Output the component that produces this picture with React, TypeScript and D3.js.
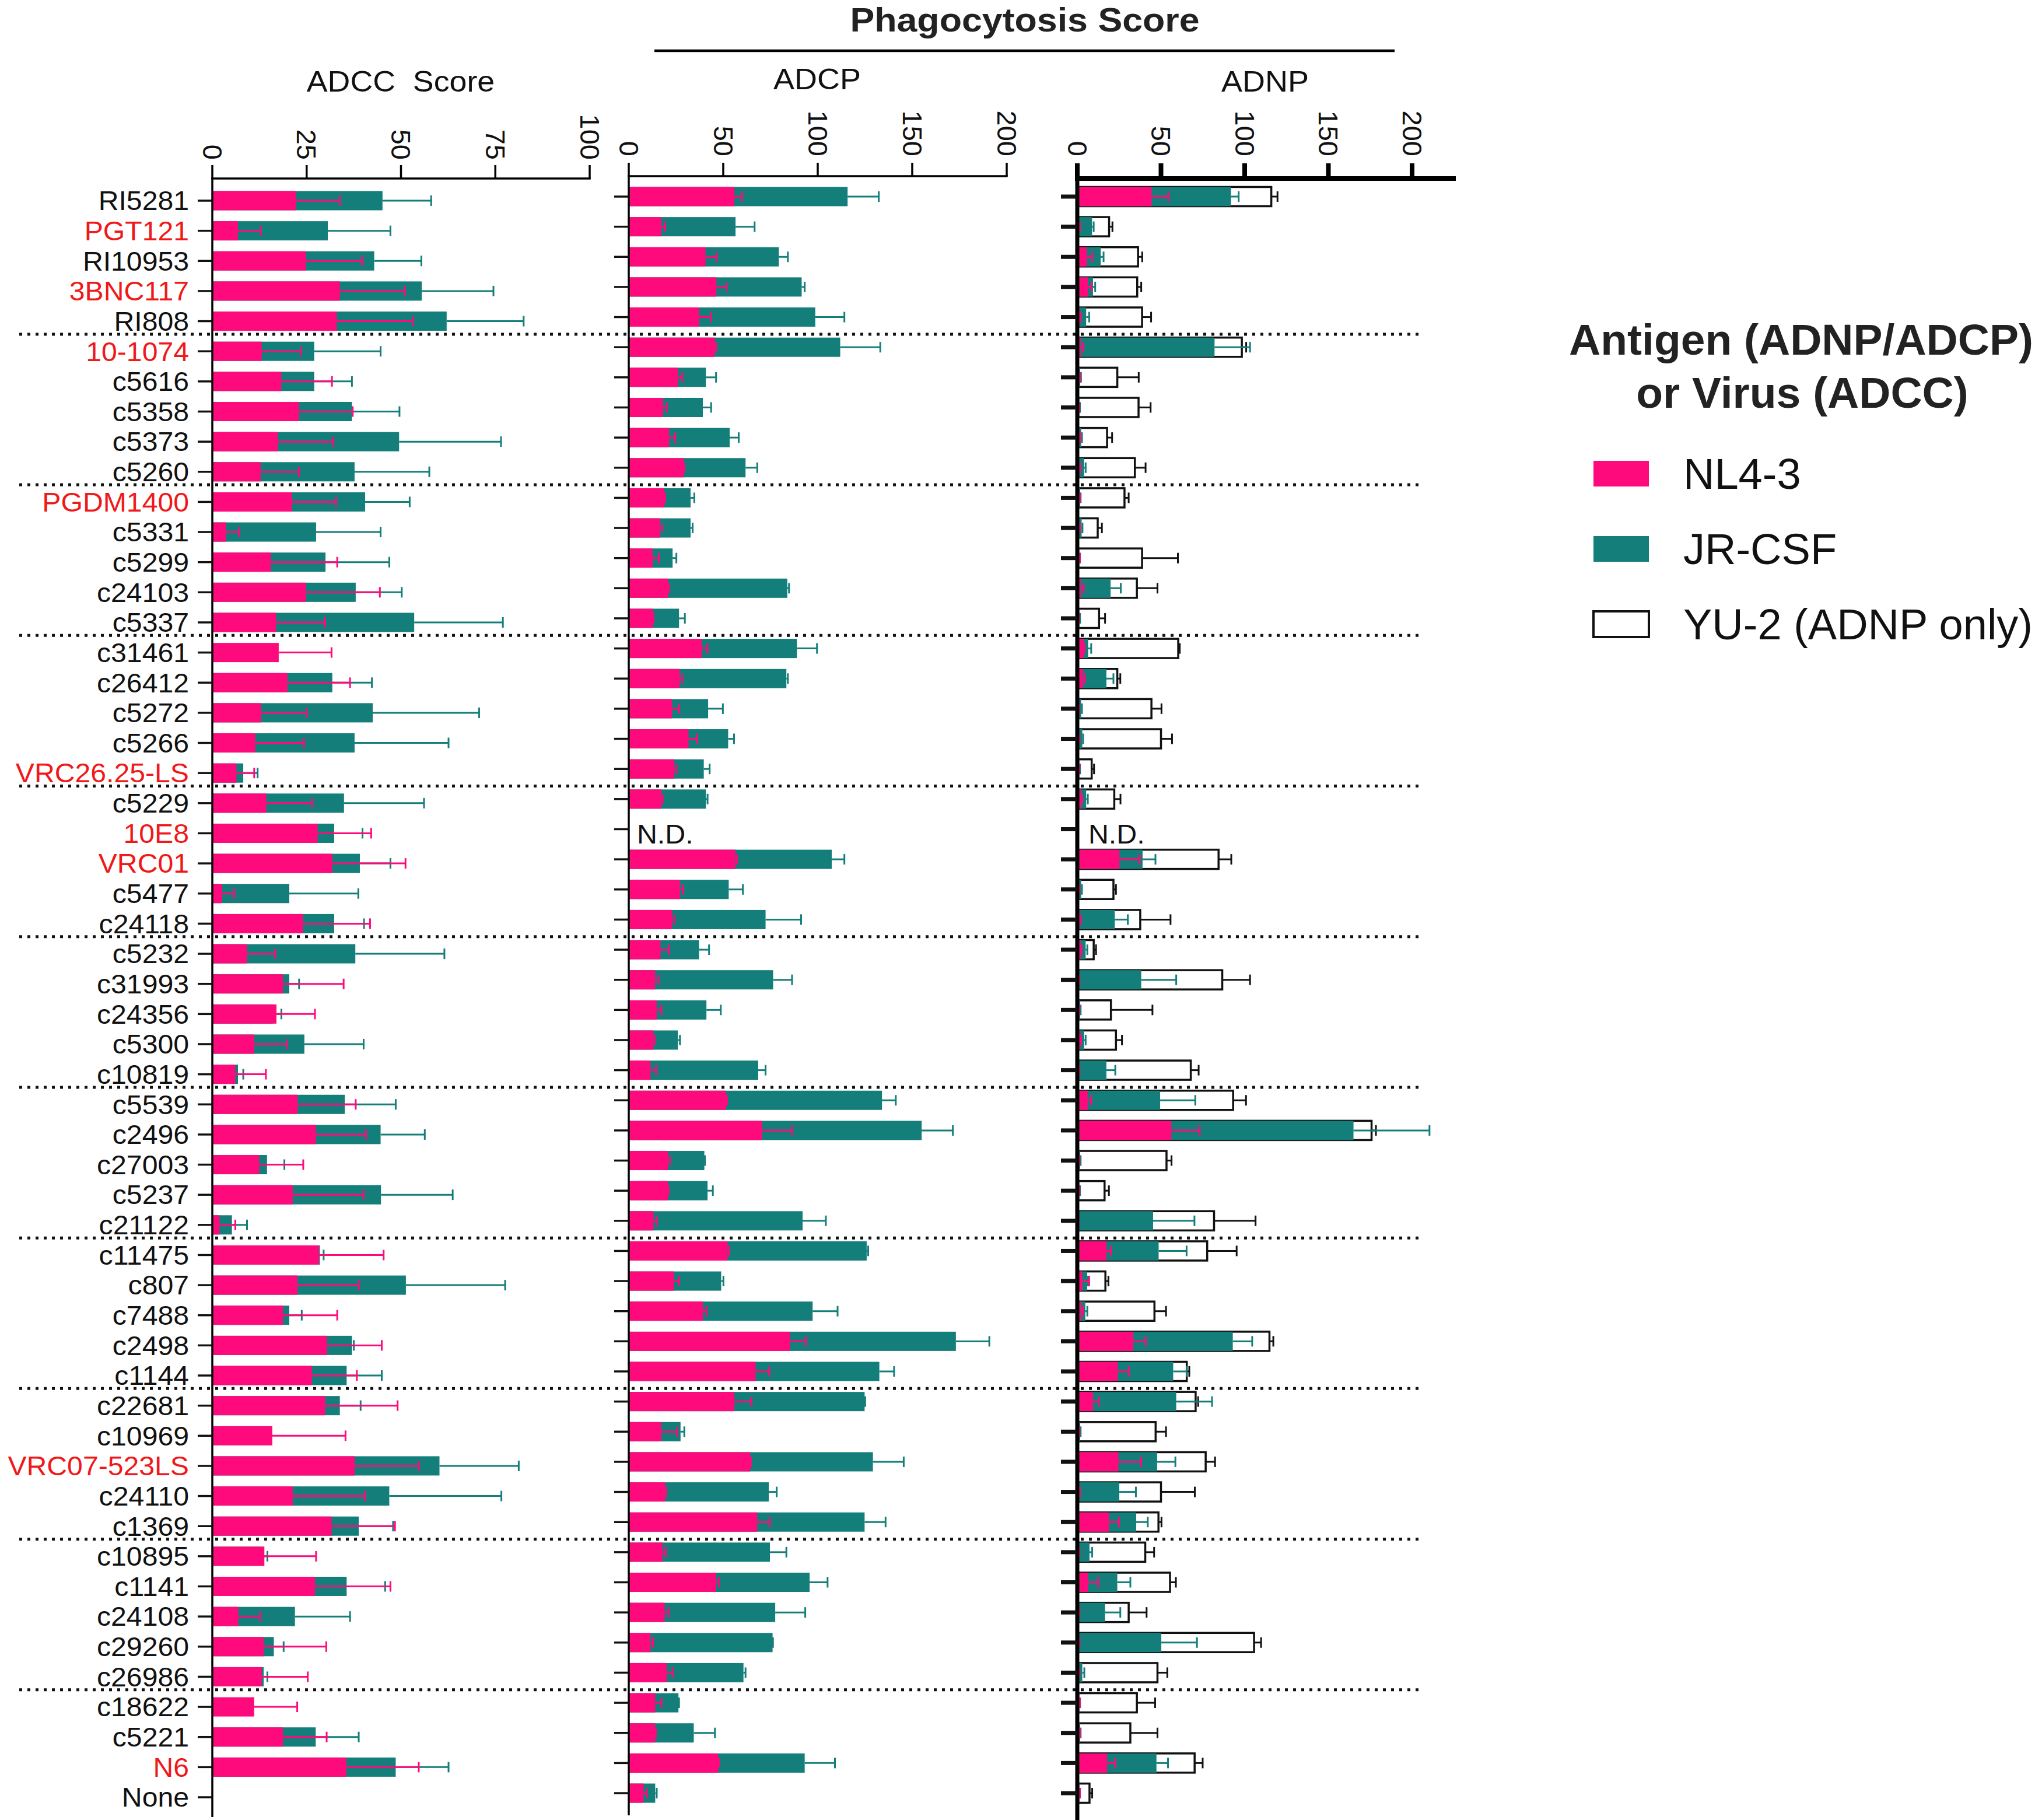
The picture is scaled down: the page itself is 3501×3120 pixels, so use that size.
import React from 'react';
import * as d3 from 'd3';

const categories = ["RI5281","PGT121","RI10953","3BNC117","RI808","10-1074","c5616","c5358","c5373","c5260","PGDM1400","c5331","c5299","c24103","c5337","c31461","c26412","c5272","c5266","VRC26.25-LS","c5229","10E8","VRC01","c5477","c24118","c5232","c31993","c24356","c5300","c10819","c5539","c2496","c27003","c5237","c21122","c11475","c807","c7488","c2498","c1144","c22681","c10969","VRC07-523LS","c24110","c1369","c10895","c1141","c24108","c29260","c26986","c18622","c5221","N6","None"];
const redLabels = ["PGT121","3BNC117","10-1074","PGDM1400","VRC26.25-LS","10E8","VRC01","VRC07-523LS","N6"];
const notDetermined = ["10E8"];

// ADCC (virus) : NL4-3 and JR-CSF, mean and SD
const adccNL = [22.2,6.8,24.8,33.8,33.0,13.1,18.3,23.0,17.4,12.8,21.1,3.6,15.5,24.8,16.9,17.6,19.9,12.9,11.4,6.4,14.3,27.9,31.8,2.6,24.0,9.2,18.7,17.0,11.1,6.1,22.6,27.4,12.4,21.3,1.9,28.3,22.6,18.7,30.4,26.4,29.9,15.9,37.7,21.3,31.6,13.8,27.2,6.9,13.6,13.1,11.1,18.7,35.5,null];
const adccNLsd = [11.6,6.0,14.9,17.2,20.1,10.3,13.4,14.2,14.7,10.2,11.7,3.5,17.6,19.6,13.0,14.0,16.6,12.1,12.9,4.7,12.2,14.2,19.4,3.2,17.8,7.5,16.1,10.2,8.6,8.1,15.4,13.3,11.7,18.8,4.2,17.1,16.2,14.4,14.5,11.9,19.2,19.4,17.0,19.2,16.8,13.7,20.0,5.8,16.6,12.2,11.4,11.6,19.2,null];
const adccJR = [45.1,30.6,42.9,55.5,62.1,27.0,27.0,37.0,49.5,37.7,40.5,27.5,30.0,38.0,53.5,null,31.8,42.5,37.7,8.2,34.9,32.3,39.1,20.4,32.3,37.9,20.4,16.0,24.4,6.8,35.1,44.6,14.5,44.7,5.2,28.5,51.3,20.4,37.0,35.6,33.8,null,60.2,46.9,38.8,13.5,35.6,21.9,16.3,13.6,null,27.4,48.6,null];
const adccJRsd = [12.9,16.6,12.5,19.0,20.4,17.6,10.0,12.6,27.0,19.8,11.8,17.1,16.9,12.2,23.5,null,10.5,28.2,24.9,3.8,21.2,7.5,8.1,18.3,7.9,23.6,2.6,2.3,15.7,1.4,13.5,11.7,4.6,19.0,4.0,1.0,26.3,3.3,0.5,9.3,5.5,null,21.0,29.7,9.1,1.1,10.2,14.6,2.6,1.0,null,11.4,14.0,null];

// ADCP (antigen) : NL4-3 and JR-CSF
const adcpNL = [55.9,17.3,40.6,46.4,37.2,45.6,26.0,18.2,21.3,29.1,18.7,16.5,12.6,20.7,12.9,38.6,26.9,22.9,31.6,24.1,17.3,null,56.5,27.1,22.9,16.8,14.0,14.8,13.1,11.5,51.5,70.5,20.7,20.7,13.1,52.3,23.8,39.2,85.3,67.1,55.9,17.3,64.3,19.3,68.0,17.9,46.2,19.0,11.5,20.1,14.0,14.0,47.3,7.8];
const adcpNLsd = [4.0,2.0,5.8,5.3,6.2,0.6,2.3,1.9,3.3,0.3,0.6,1.1,3.3,0.8,0.2,3.1,1.4,3.7,4.5,1.1,0.6,null,0.8,1.7,1.2,4.5,1.7,2.5,0.9,3.0,0.5,15.9,1.1,0.3,1.7,0.6,2.8,1.9,8.4,7.3,9.0,8.4,0.3,0.6,6.7,1.7,1.4,2.0,1.4,3.1,3.3,0.3,0.5,1.7];
const adcpJR = [115.8,56.5,79.4,91.5,98.7,111.9,40.8,39.2,53.4,61.8,32.7,32.7,23.2,83.9,26.6,89.0,83.4,42.0,52.6,39.7,40.8,null,107.4,52.9,72.4,37.2,76.4,41.1,26.0,68.5,134.0,155.0,40.0,41.7,92.0,125.9,48.9,97.3,173.1,132.6,124.8,27.4,129.2,74.1,124.8,74.7,95.7,77.5,76.1,60.7,26.3,34.4,93.1,14.0];
const adcpJRsd = [16.5,10.1,4.8,1.6,15.4,21.2,5.4,4.4,4.8,6.2,2.0,1.1,2.0,0.9,3.1,10.6,0.8,7.8,3.1,3.1,0.9,null,6.7,7.5,18.8,5.3,10.0,7.6,1.1,3.9,7.3,16.5,0.3,2.8,12.3,0.8,1.2,13.2,17.7,7.8,0.3,2.0,16.3,4.2,11.1,8.7,9.5,15.9,0.2,1.1,0.3,11.2,16.0,0.8];

// ADNP (antigen) : NL4-3, JR-CSF and YU-2
const adnpNL = [44.4,1.0,5.7,6.3,1.5,2.0,1.0,0.8,1.2,1.2,1.0,1.0,1.0,2.0,0.8,3.8,3.5,0.9,1.0,1.0,2.3,null,25.2,1.0,1.5,2.0,1.0,1.0,1.8,1.0,6.2,56.2,1.0,1.0,0.5,17.5,3.0,2.3,33.5,24.2,9.4,1.0,24.6,1.2,18.9,1.0,6.3,1.0,1.0,1.0,1.2,1.2,17.8,1.2];
const adnpNLsd = [10.0,0.5,3.2,2.2,0.5,1.5,0.5,0.5,0.5,0.5,0.5,0.5,0.5,1.8,0.3,0.5,1.0,0.3,0.3,0.3,0.5,null,12.1,0.3,0.5,0.5,0.3,0.3,0.5,0.3,2.1,16.9,0.3,0.3,0.3,2.6,4.1,1.0,7.4,6.5,3.4,0.3,13.5,0.3,6.0,0.3,6.2,0.3,0.3,0.3,0.3,0.3,4.9,0.3];
const adnpJR = [91.8,8.8,14.0,9.4,5.3,82.0,1.7,1.3,2.3,4.1,1.7,2.6,1.3,19.9,1.3,6.5,17.4,2.3,3.0,1.3,5.3,null,39.0,2.3,22.4,5.0,38.2,1.7,4.1,17.4,49.5,165.0,1.7,1.3,45.3,48.6,5.9,4.8,92.9,57.3,59.1,1.7,47.7,25.1,35.2,7.3,23.9,16.6,50.2,3.0,1.3,1.7,47.3,1.3];
const adnpJRsd = [4.6,1.0,1.7,1.3,1.8,21.2,0.5,0.3,0.5,0.9,0.3,0.5,0.3,6.1,0.3,1.8,4.2,0.5,0.5,0.3,1.0,null,7.7,0.5,7.8,1.0,20.9,0.3,0.9,5.3,21.0,45.4,0.3,0.3,24.7,16.7,0.5,1.2,11.6,8.1,21.4,0.3,10.9,9.9,6.9,1.6,7.8,9.1,21.3,1.2,0.3,0.3,6.9,0.3];
const adnpYU = [115.9,19.0,36.3,35.8,38.7,98.3,23.9,36.6,17.8,34.4,28.2,12.2,38.7,35.6,13.0,60.3,23.9,44.3,50.0,8.6,22.1,null,84.4,21.6,37.6,9.8,86.6,20.1,23.1,67.8,93.1,175.8,53.3,16.3,81.7,77.6,16.8,46.1,114.8,65.4,70.7,46.8,76.7,50.0,48.5,40.6,55.4,30.7,105.6,47.9,35.6,31.7,70.1,7.3];
const adnpYUsd = [3.7,2.0,2.5,2.4,5.4,2.6,12.8,7.2,3.0,6.4,2.5,2.5,21.4,12.3,3.6,0.9,1.8,6.0,6.6,1.4,3.7,null,7.6,1.5,18.1,1.4,16.6,24.8,3.6,4.7,7.7,2.6,3.0,2.6,24.8,17.6,1.8,6.9,2.3,1.5,1.5,6.2,5.6,20.2,1.8,5.3,3.5,10.7,4.2,5.9,10.9,16.2,4.8,1.6];

const adccTicks = [0, 25, 50, 75, 100];
const phagoTicks = [0, 50, 100, 150, 200];
const legendItems = ["NL4-3", "JR-CSF", "YU-2 (ADNP only)"];

const PINK = "#ff0a7c";
const TEAL = "#147e7a";
const FONT = "'Liberation Sans', Arial, Helvetica, sans-serif";

const W = 3501, H = 3120;
const BAR_H = 33;
const CAP = 9;

type Series = { vals: (number | null)[]; sds: (number | null)[]; fill: string; stroke?: string; err: string };

// text slightly widened horizontally, like the reference
function SText({ x, y, sx = 1.0, children, ...rest }: any) {
  return (
    <g transform={`translate(${x},${y}) scale(${sx},1)`}>
      <text x={0} y={0} fontFamily={FONT} {...rest}>{children}</text>
    </g>
  );
}

function Bars({ x, y, series }: { x: d3.ScaleLinear<number, number>; y: d3.ScalePoint<string>; series: Series[] }) {
  const x0 = x(0);
  return (
    <g>
      {series.map((s, si) => (
        <g key={si}>
          {categories.map((c, i) => {
            const v = s.vals[i];
            if (v == null) return null;
            const sd = s.sds[i] ?? 0;
            const yc = y(c)!;
            const xe = x(v);
            const xs = x(v + sd);
            return (
              <g key={c}>
                <rect x={x0} y={yc - BAR_H / 2} width={Math.max(0, xe - x0)} height={BAR_H}
                  fill={s.fill} stroke={s.stroke ?? 'none'} strokeWidth={s.stroke ? 3.5 : 0} />
                {sd > 0 && (
                  <g stroke={s.err} strokeWidth={3}>
                    <line x1={xe} x2={xs} y1={yc} y2={yc} />
                    <line x1={xs} x2={xs} y1={yc - CAP} y2={yc + CAP} />
                  </g>
                )}
              </g>
            );
          })}
        </g>
      ))}
    </g>
  );
}

function TopAxis({ x, yAxis, labelEnd, ticks, width, tickLen, axisEnd }: {
  x: d3.ScaleLinear<number, number>; yAxis: number; labelEnd: number; ticks: number[]; width: number; tickLen: number; axisEnd?: number;
}) {
  const [a, b] = x.range();
  return (
    <g>
      <line x1={a - width / 2} x2={axisEnd ?? b + width / 2} y1={yAxis} y2={yAxis} stroke="#000" strokeWidth={width} />
      {ticks.map(t => (
        <g key={t}>
          <line x1={x(t)} x2={x(t)} y1={yAxis} y2={yAxis - tickLen} stroke="#000" strokeWidth={width} />
          <text transform={`translate(${x(t)},${labelEnd}) rotate(90)`} textAnchor="end" dominantBaseline="central"
            fontFamily={FONT} fontSize={47} fill="#111">{t}</text>
        </g>
      ))}
    </g>
  );
}

function LeftAxis({ x0, y, yTop, yBottom, width, tickLen }: {
  x0: number; y: d3.ScalePoint<string>; yTop: number; yBottom: number; width: number; tickLen: number;
}) {
  return (
    <g>
      <line x1={x0} x2={x0} y1={yTop - width / 2} y2={yBottom} stroke="#000" strokeWidth={width} />
      {categories.map(c => (
        <line key={c} x1={x0 - tickLen} x2={x0} y1={y(c)!} y2={y(c)!} stroke="#111" strokeWidth={width} />
      ))}
    </g>
  );
}

export default function App() {
  const xAdcc = d3.scaleLinear().domain([0, 100]).range([364, 1011]);
  const xAdcp = d3.scaleLinear().domain([0, 200]).range([1078, 1726]);
  const xAdnp = d3.scaleLinear().domain([0, 200]).range([1847, 2421]);
  const yAdcc = d3.scalePoint<string>().domain(categories).range([344, 3081]);
  const yPhago = d3.scalePoint<string>().domain(categories).range([337, 3074]);

  const step = yAdcc.step();
  const separators = categories.map((c, i) => i).filter(i => i % 5 === 4 && i < categories.length - 1)
    .map(i => ((yAdcc(categories[i])! + yPhago(categories[i])!) / 2) + step / 2);

  return (
    <svg width={W} height={H} style={{ position: 'absolute', left: 0, top: 0, background: '#fff' }}
      xmlns="http://www.w3.org/2000/svg">
      <rect width={W} height={H} fill="#fff" />

      {/* group separators */}
      {separators.map((sy, i) => (
        <line key={i} x1={33} x2={2436} y1={sy} y2={sy} stroke="#111" strokeWidth={5} strokeDasharray="5 9" />
      ))}

      {/* titles */}
      <SText x={687} y={157} sx={1.075} textAnchor="middle" fontSize={50} fill="#111">ADCC{"\u00a0\u00a0"}Score</SText>
      <SText x={1757} y={54} sx={1.1} textAnchor="middle" fontSize={57} fontWeight="bold" fill="#222">Phagocytosis Score</SText>
      <line x1={1122} x2={2391} y1={87} y2={87} stroke="#000" strokeWidth={4.5} />
      <SText x={1401} y={153} sx={1.08} textAnchor="middle" fontSize={50} fill="#111">ADCP</SText>
      <SText x={2169} y={157} sx={1.08} textAnchor="middle" fontSize={50} fill="#111">ADNP</SText>

      {/* ADCC panel */}
      <Bars x={xAdcc} y={yAdcc} series={[
        { vals: adccJR, sds: adccJRsd, fill: TEAL, err: TEAL },
        { vals: adccNL, sds: adccNLsd, fill: PINK, err: PINK },
      ]} />
      <TopAxis x={xAdcc} yAxis={306} labelEnd={274} ticks={adccTicks} width={3.5} tickLen={23} />
      <LeftAxis x0={364} y={yAdcc} yTop={306} yBottom={3115} width={3.5} tickLen={25} />
      {categories.map(c => (
        <SText key={c} x={324} y={yAdcc(c)!} sx={1.025} textAnchor="end" dominantBaseline="central"
          fontSize={47} fill={redLabels.includes(c) ? "#f01818" : "#111"}>{c}</SText>
      ))}

      {/* ADCP panel */}
      <Bars x={xAdcp} y={yPhago} series={[
        { vals: adcpJR, sds: adcpJRsd, fill: TEAL, err: TEAL },
        { vals: adcpNL, sds: adcpNLsd, fill: PINK, err: PINK },
      ]} />
      <TopAxis x={xAdcp} yAxis={302} labelEnd={268} ticks={phagoTicks} width={3.5} tickLen={23} />
      <LeftAxis x0={1078} y={yPhago} yTop={302} yBottom={3112} width={3.5} tickLen={25} />

      {/* ADNP panel */}
      <Bars x={xAdnp} y={yPhago} series={[
        { vals: adnpYU, sds: adnpYUsd, fill: '#fff', stroke: '#111', err: '#111' },
        { vals: adnpJR, sds: adnpJRsd, fill: TEAL, err: TEAL },
        { vals: adnpNL, sds: adnpNLsd, fill: PINK, err: PINK },
      ]} />
      <TopAxis x={xAdnp} yAxis={306} labelEnd={268} ticks={phagoTicks} width={8} tickLen={26} axisEnd={2496} />
      <LeftAxis x0={1847} y={yPhago} yTop={306} yBottom={3120} width={7} tickLen={28} />

      {notDetermined.map(c => (
        <g key={c}>
          <SText x={1092} y={yPhago(c)! + 25} sx={1.05} fontSize={46} fill="#111">N.D.</SText>
          <SText x={1866} y={yPhago(c)! + 25} sx={1.05} fontSize={46} fill="#111">N.D.</SText>
        </g>
      ))}

      {/* legend */}
      <text x={3088} y={608} textAnchor="middle" fontFamily={FONT} fontSize={75} fontWeight="bold" fill="#222">Antigen (ADNP/ADCP)</text>
      <text x={3090} y={699} textAnchor="middle" fontFamily={FONT} fontSize={75} fontWeight="bold" fill="#222">or Virus (ADCC)</text>
      {legendItems.map((lab, i) => {
        const ly = 812 + i * 129;
        const fill = i === 0 ? PINK : i === 1 ? TEAL : '#fff';
        return (
          <g key={lab}>
            <rect x={2732} y={ly - 22} width={95} height={44} fill={fill} stroke={i === 2 ? '#111' : 'none'} strokeWidth={4} />
            <SText x={2886} y={ly} sx={1.0} dominantBaseline="central" fontSize={74} fill="#111">{lab}</SText>
          </g>
        );
      })}
    </svg>
  );
}
